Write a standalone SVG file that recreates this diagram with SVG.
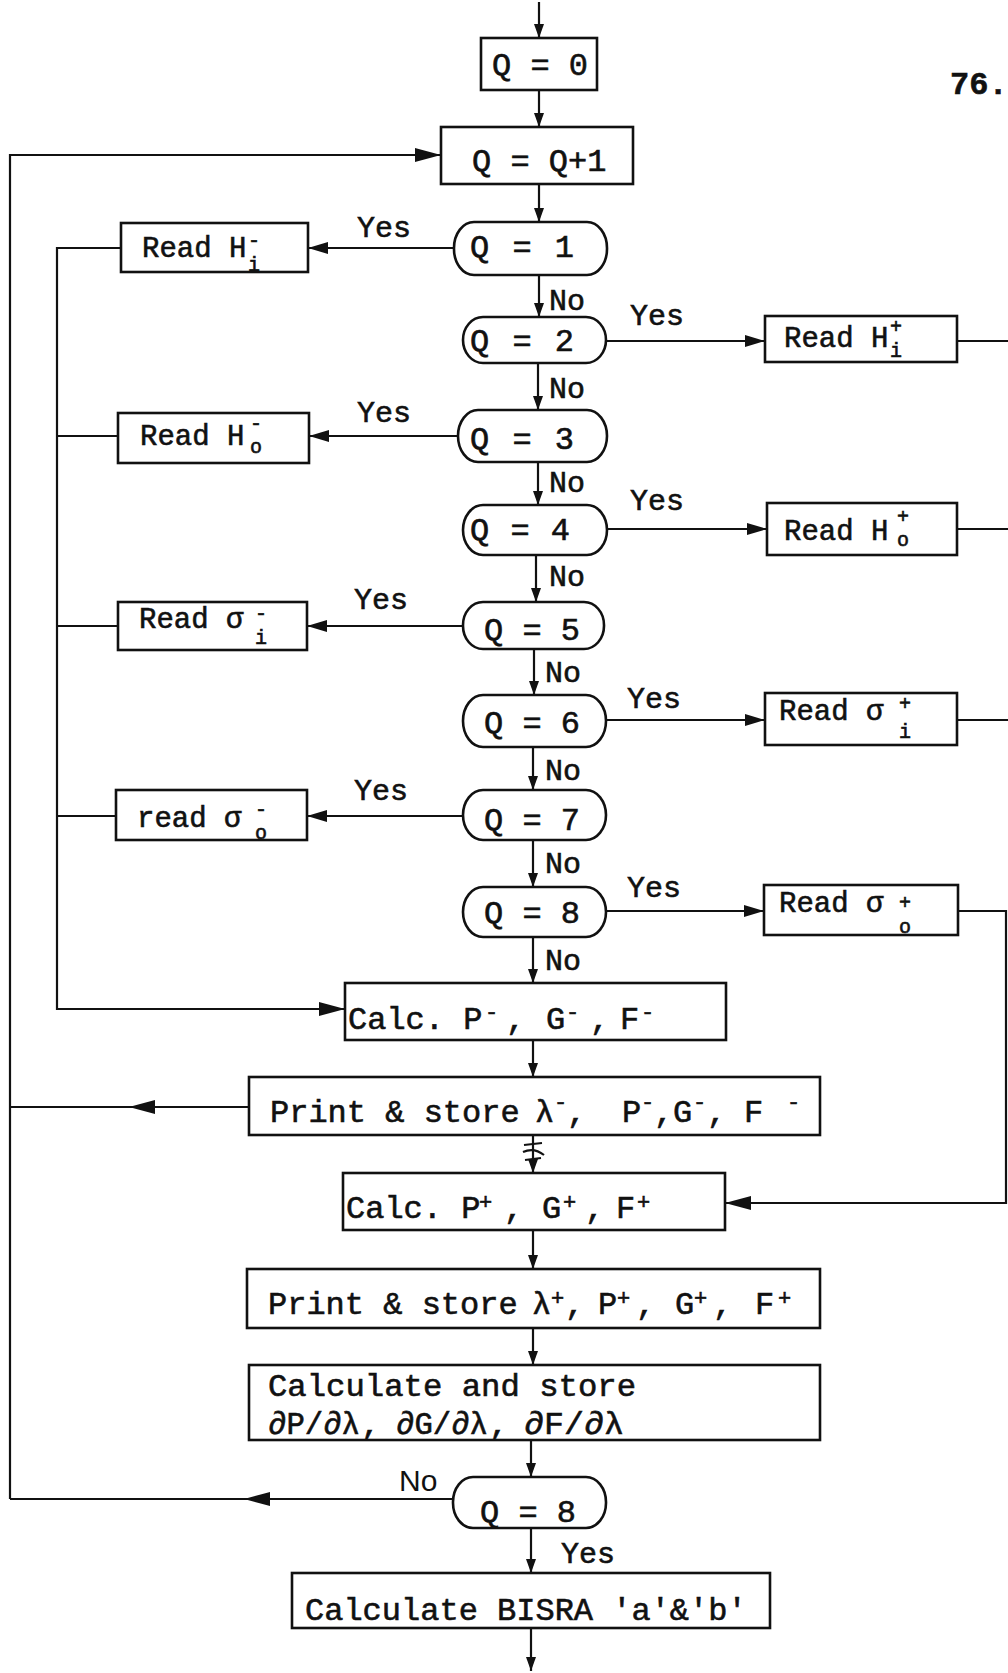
<svg xmlns="http://www.w3.org/2000/svg" width="1008" height="1673" viewBox="0 0 1008 1673">
<style>
.bx{fill:#fff;stroke:#111;stroke-width:2.6}
.ln{fill:none;stroke:#111;stroke-width:2.2}
.t{font-family:"Liberation Mono","Courier New",monospace;font-size:32px;fill:#111;stroke:#111;stroke-width:0.6}
.r{font-size:29px}
.s{font-size:20px}
.u{font-size:22px}
.lb{font-size:30px}
.hw{font-family:"Liberation Sans",Arial,sans-serif;font-size:30px;fill:#111}
</style>
<defs>
<marker id="a" markerUnits="userSpaceOnUse" markerWidth="14" markerHeight="10" refX="14" refY="5" orient="auto"><path d="M0,0 L14,5 L0,10 z" fill="#111"/></marker>
<marker id="b" markerUnits="userSpaceOnUse" markerWidth="20" markerHeight="12" refX="20" refY="6" orient="auto"><path d="M0,0 L20,6 L0,12 z" fill="#111"/></marker>
<marker id="c" markerUnits="userSpaceOnUse" markerWidth="26" markerHeight="14" refX="26" refY="7" orient="auto"><path d="M0,0 L26,7 L0,14 z" fill="#111"/></marker>
</defs>

<g id="connectors">
<path class="ln" d="M539,2 V38" marker-end="url(#a)"/>
<path class="ln" d="M539,90 V127" marker-end="url(#a)"/>
<path class="ln" d="M539,184 V222" marker-end="url(#a)"/>
<path class="ln" d="M539,275 V317" marker-end="url(#a)"/>
<path class="ln" d="M538,363 V410" marker-end="url(#a)"/>
<path class="ln" d="M538,462 V505" marker-end="url(#a)"/>
<path class="ln" d="M536,555 V602" marker-end="url(#a)"/>
<path class="ln" d="M534,649 V695" marker-end="url(#a)"/>
<path class="ln" d="M533,747 V790" marker-end="url(#a)"/>
<path class="ln" d="M533,840 V887" marker-end="url(#a)"/>
<path class="ln" d="M533,937 V983" marker-end="url(#a)"/>
<path class="ln" d="M533,1040 V1077" marker-end="url(#a)"/>
<path class="ln" d="M533,1135 V1173" marker-end="url(#a)"/>
<path class="ln" d="M533,1230 V1269" marker-end="url(#a)"/>
<path class="ln" d="M533,1328 V1365" marker-end="url(#a)"/>
<path class="ln" d="M531,1440 V1477" marker-end="url(#a)"/>
<path class="ln" d="M531,1528 V1573" marker-end="url(#a)"/>
<path class="ln" d="M531,1628 V1671" marker-end="url(#a)"/>
<path class="ln" d="M524,1145 L542,1143 M523,1152 Q534,1147 544,1155 M525,1160 L541,1158" stroke-width="2.8"/>
<path class="ln" d="M454,248 H308" marker-end="url(#b)"/>
<path class="ln" d="M458,436 H309" marker-end="url(#b)"/>
<path class="ln" d="M463,626 H307" marker-end="url(#b)"/>
<path class="ln" d="M463,816 H307" marker-end="url(#b)"/>
<path class="ln" d="M606,341 H765" marker-end="url(#b)"/>
<path class="ln" d="M607,529 H767" marker-end="url(#b)"/>
<path class="ln" d="M606,720 H765" marker-end="url(#b)"/>
<path class="ln" d="M606,911 H764" marker-end="url(#b)"/>
<path class="ln" d="M121,248 H57 V1009 H345" marker-end="url(#c)"/>
<path class="ln" d="M118,436 H57"/>
<path class="ln" d="M118,626 H57"/>
<path class="ln" d="M116,816 H57"/>
<path class="ln" d="M957,341 H1008"/>
<path class="ln" d="M957,529 H1008"/>
<path class="ln" d="M957,720 H1008"/>
<path class="ln" d="M958,911 H1006 V1203 H725" marker-end="url(#c)"/>
<path class="ln" d="M10,1499 V155 H441" marker-end="url(#c)"/>
<path class="ln" d="M249,1107 H129 H10" marker-mid="url(#c)"/>
<path class="ln" d="M453,1499 H244 H10" marker-mid="url(#c)"/>
</g>

<text class="t" x="950" y="94" font-size="27" font-weight="bold">76.</text>

<g id="q0"><rect class="bx" x="481" y="38" width="116" height="52"/><text class="t" x="492" y="75">Q = 0</text></g>
<g id="qinc"><rect class="bx" x="441" y="127" width="192" height="57"/><text class="t" x="472" y="171">Q = Q+1</text></g>

<g id="d1"><rect class="bx" x="454" y="222" width="153" height="53" rx="20" ry="26"/><text class="t" x="470" y="257" letter-spacing="2">Q = 1</text></g>
<g id="d2"><rect class="bx" x="463" y="317" width="143" height="46" rx="20" ry="23"/><text class="t" x="470" y="351" letter-spacing="2">Q = 2</text></g>
<g id="d3"><rect class="bx" x="458" y="410" width="149" height="52" rx="20" ry="26"/><text class="t" x="470" y="449" letter-spacing="2">Q = 3</text></g>
<g id="d4"><rect class="bx" x="463" y="505" width="144" height="50" rx="20" ry="25"/><text class="t" x="470" y="540" letter-spacing="1">Q = 4</text></g>
<g id="d5"><rect class="bx" x="463" y="602" width="141" height="47" rx="20" ry="23"/><text class="t" x="484" y="640">Q = 5</text></g>
<g id="d6"><rect class="bx" x="463" y="695" width="143" height="52" rx="20" ry="26"/><text class="t" x="484" y="733">Q = 6</text></g>
<g id="d7"><rect class="bx" x="463" y="790" width="143" height="50" rx="20" ry="25"/><text class="t" x="484" y="830">Q = 7</text></g>
<g id="d8"><rect class="bx" x="463" y="887" width="143" height="50" rx="20" ry="25"/><text class="t" x="484" y="923">Q = 8</text></g>

<g id="rhim"><rect class="bx" x="121" y="223" width="187" height="49"/><text class="t r" x="142" y="257">Read H<tspan class="s" x="248" y="247">-</tspan><tspan class="s" x="248" y="271">i</tspan></text></g>
<g id="rhip"><rect class="bx" x="765" y="316" width="192" height="46"/><text class="t r" x="784" y="347">Read H<tspan class="s" x="890" y="333">+</tspan><tspan class="s" x="890" y="357">i</tspan></text></g>
<g id="rhom"><rect class="bx" x="118" y="413" width="191" height="50"/><text class="t r" x="140" y="445">Read H<tspan class="s" x="250" y="430">-</tspan><tspan class="s" x="250" y="453">o</tspan></text></g>
<g id="rhop"><rect class="bx" x="767" y="503" width="190" height="52"/><text class="t r" x="784" y="540">Read H<tspan class="s" x="897" y="523">+</tspan><tspan class="s" x="897" y="546">o</tspan></text></g>
<g id="rsim"><rect class="bx" x="118" y="602" width="189" height="48"/><text class="t r" x="139" y="628">Read σ<tspan class="s" x="255" y="620">-</tspan><tspan class="s" x="255" y="644">i</tspan></text></g>
<g id="rsip"><rect class="bx" x="765" y="693" width="192" height="52"/><text class="t r" x="779" y="720">Read σ<tspan class="s" x="899" y="710">+</tspan><tspan class="s" x="899" y="738">i</tspan></text></g>
<g id="rsom"><rect class="bx" x="116" y="790" width="191" height="50"/><text class="t r" x="137" y="827">read σ<tspan class="s" x="255" y="816">-</tspan><tspan class="s" x="255" y="839">o</tspan></text></g>
<g id="rsop"><rect class="bx" x="764" y="885" width="194" height="50"/><text class="t r" x="779" y="912">Read σ<tspan class="s" x="899" y="909">+</tspan><tspan class="s" x="899" y="933">o</tspan></text></g>

<g id="calcm"><rect class="bx" x="345" y="983" width="381" height="57"/>
<text class="t" y="1029"><tspan x="348">Calc. P</tspan><tspan class="u" x="485" y="1019">-</tspan><tspan x="506" y="1029">,</tspan><tspan x="546">G</tspan><tspan class="u" x="566" y="1019">-</tspan><tspan x="590" y="1029">,</tspan><tspan x="620">F</tspan><tspan class="u" x="641" y="1019">-</tspan></text></g>

<g id="printm"><rect class="bx" x="249" y="1077" width="571" height="58"/>
<text class="t" y="1122"><tspan x="270">Print &amp; store</tspan><tspan x="535">λ</tspan><tspan class="u" x="554" y="1109">-</tspan><tspan x="567" y="1122">,</tspan><tspan x="622">P</tspan><tspan class="u" x="641" y="1109">-</tspan><tspan x="654" y="1122">,</tspan><tspan x="673">G</tspan><tspan class="u" x="693" y="1109">-</tspan><tspan x="707" y="1122">,</tspan><tspan x="744">F</tspan><tspan class="u" x="787" y="1109">-</tspan></text></g>

<g id="calcp"><rect class="bx" x="343" y="1173" width="382" height="57"/>
<text class="t" y="1218"><tspan x="346">Calc. P</tspan><tspan class="u" x="479" y="1209">+</tspan><tspan x="504" y="1218">,</tspan><tspan x="542">G</tspan><tspan class="u" x="563" y="1209">+</tspan><tspan x="585" y="1218">,</tspan><tspan x="616">F</tspan><tspan class="u" x="637" y="1209">+</tspan></text></g>

<g id="printp"><rect class="bx" x="247" y="1269" width="573" height="59"/>
<text class="t" y="1314"><tspan x="268">Print &amp; store</tspan><tspan x="532">λ</tspan><tspan class="u" x="551" y="1305">+</tspan><tspan x="565" y="1314">,</tspan><tspan x="598">P</tspan><tspan class="u" x="617" y="1305">+</tspan><tspan x="636" y="1314">,</tspan><tspan x="675">G</tspan><tspan class="u" x="694" y="1305">+</tspan><tspan x="713" y="1314">,</tspan><tspan x="755">F</tspan><tspan class="u" x="778" y="1305">+</tspan></text></g>

<g id="calcstore"><rect class="bx" x="249" y="1365" width="571" height="75"/>
<text class="t" x="268" y="1396" font-size="28" textLength="368" lengthAdjust="spacingAndGlyphs">Calculate and store</text>
<text class="t" y="1434" font-size="27"><tspan x="268" textLength="92" lengthAdjust="spacingAndGlyphs">∂P/∂λ</tspan><tspan x="361">,</tspan><tspan x="396" textLength="92" lengthAdjust="spacingAndGlyphs">∂G/∂λ</tspan><tspan x="489">,</tspan><tspan x="524" textLength="100" lengthAdjust="spacingAndGlyphs">∂F/∂λ</tspan></text></g>

<g id="d8b"><rect class="bx" x="453" y="1477" width="153" height="51" rx="20" ry="25"/><text class="t" x="480" y="1522">Q = 8</text></g>

<g id="bisra"><rect class="bx" x="292" y="1573" width="478" height="55"/><text class="t" x="305" y="1620">Calculate BISRA 'a'&amp;'b'</text></g>

<g id="labels">
<text class="t lb" x="357" y="237">Yes</text>
<text class="t lb" x="549" y="310">No</text>
<text class="t lb" x="630" y="325">Yes</text>
<text class="t lb" x="549" y="398">No</text>
<text class="t lb" x="357" y="422">Yes</text>
<text class="t lb" x="549" y="492">No</text>
<text class="t lb" x="630" y="510">Yes</text>
<text class="t lb" x="549" y="586">No</text>
<text class="t lb" x="354" y="609">Yes</text>
<text class="t lb" x="545" y="682">No</text>
<text class="t lb" x="627" y="708">Yes</text>
<text class="t lb" x="545" y="780">No</text>
<text class="t lb" x="354" y="800">Yes</text>
<text class="t lb" x="545" y="873">No</text>
<text class="t lb" x="627" y="897">Yes</text>
<text class="t lb" x="545" y="970">No</text>
<text class="hw" x="399" y="1491">No</text>
<text class="t lb" x="561" y="1563">Yes</text>
</g>
</svg>
